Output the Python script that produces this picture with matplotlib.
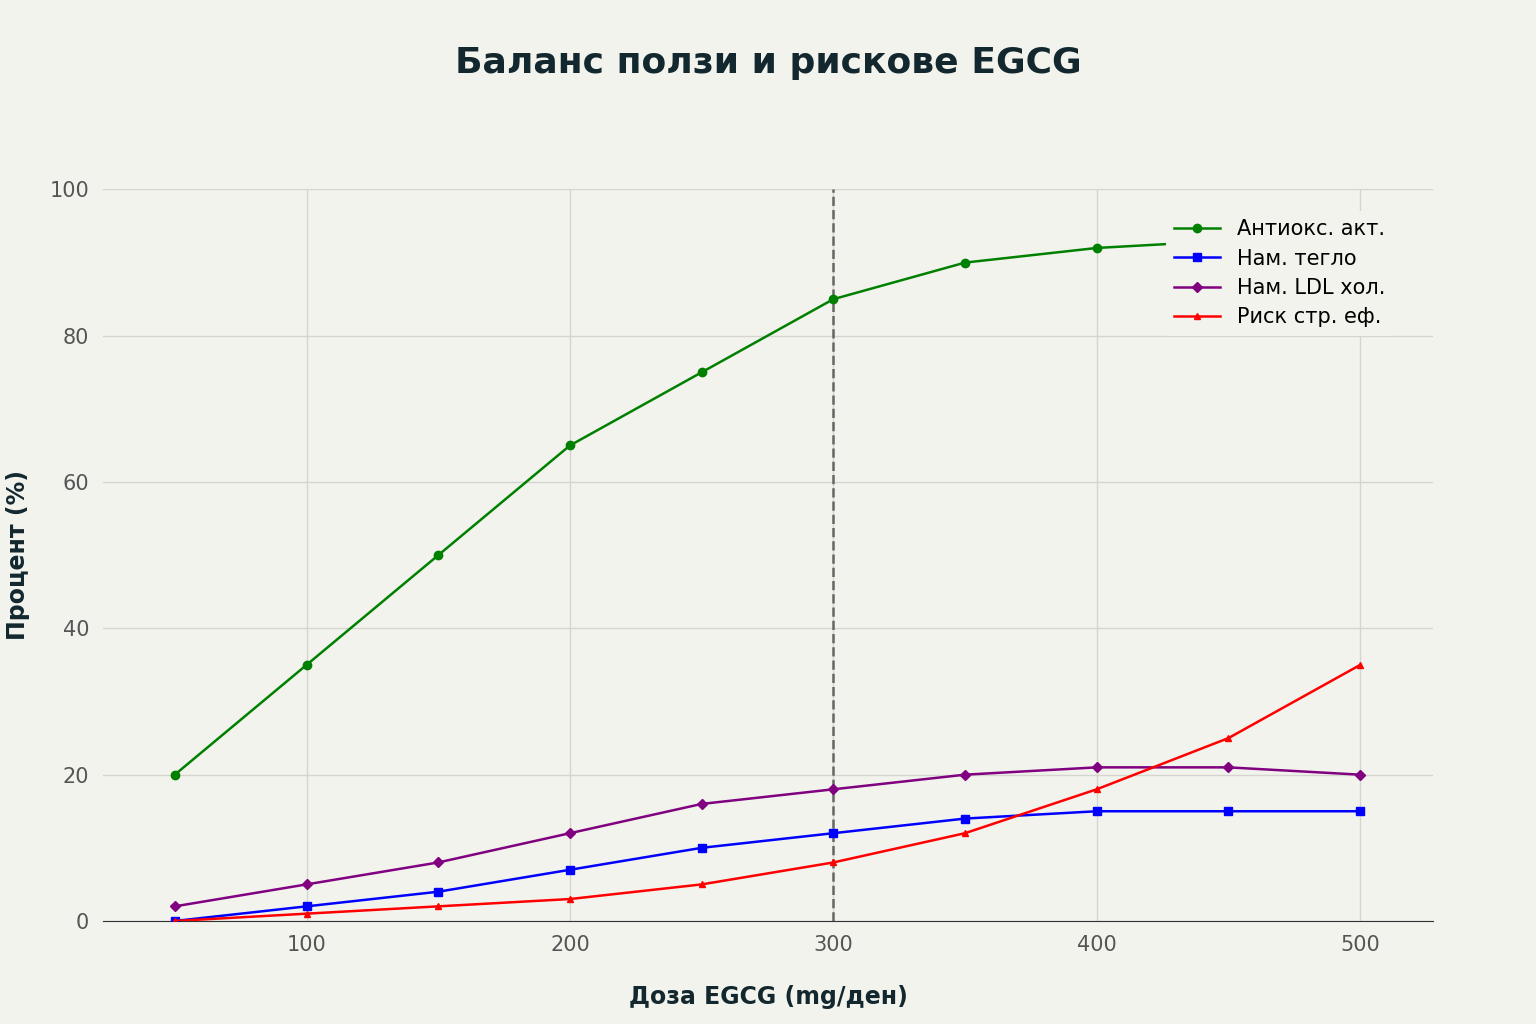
import matplotlib
matplotlib.use("Agg")
import matplotlib.pyplot as plt

doses = [50, 100, 150, 200, 250, 300, 350, 400, 450, 500]
antiox = [20, 35, 50, 65, 75, 85, 90, 92, 93, 95]
weight = [0, 2, 4, 7, 10, 12, 14, 15, 15, 15]
ldl = [2, 5, 8, 12, 16, 18, 20, 21, 21, 20]
risk = [0, 1, 2, 3, 5, 8, 12, 18, 25, 35]
xticks = [100, 200, 300, 400, 500]
yticks = [0, 20, 40, 60, 80, 100]

bg = "#f3f3ee"
fig = plt.figure(figsize=(15.36, 10.24), dpi=100, facecolor=bg)
ax = fig.add_axes([0.067, 0.1006, 0.866, 0.7144], facecolor=bg)
ax.plot(doses, antiox, color="green", marker="o", ms=6, lw=1.8, label="Антиокс. акт.", zorder=3)
ax.plot(doses, weight, color="blue", marker="s", ms=6, lw=1.8, label="Нам. тегло", zorder=3)
ax.plot(doses, ldl, color="purple", marker="D", ms=5.5, lw=1.8, label="Нам. LDL хол.", zorder=3)
ax.plot(doses, risk, color="red", marker="^", ms=5, lw=1.8, label="Риск стр. еф.", zorder=3)
ax.axvline(300, color="#666666", ls="--", lw=1.8, zorder=2)
ax.set_xlim(22.7, 527.7)
ax.set_ylim(0, 100)
ax.set_xticks(xticks)
ax.set_yticks(yticks)
ax.grid(True, color="#d5d5d0", lw=1)
for s in ["top", "right", "left"]:
    ax.spines[s].set_visible(False)
ax.spines["bottom"].set_color("#333333")
ax.tick_params(axis="both", length=0, labelsize=15, labelcolor="#555555", pad=10)
ax.set_xlabel("Доза EGCG (mg/ден)", fontsize=17, fontweight="bold", color="#13282e", labelpad=22)
ax.set_ylabel("Процент (%)", fontsize=17, fontweight="bold", color="#13282e", labelpad=14)
leg = ax.legend(loc="upper right", bbox_to_anchor=(0.978, 0.985), fontsize=15, frameon=True,
                facecolor=bg, edgecolor="none", framealpha=1, handlelength=2.2, labelspacing=0.45)
fig.suptitle("Баланс ползи и рискове EGCG", fontsize=26, fontweight="bold", color="#13282e", y=0.955)
fig.savefig("out.png", dpi=100, facecolor=bg)
